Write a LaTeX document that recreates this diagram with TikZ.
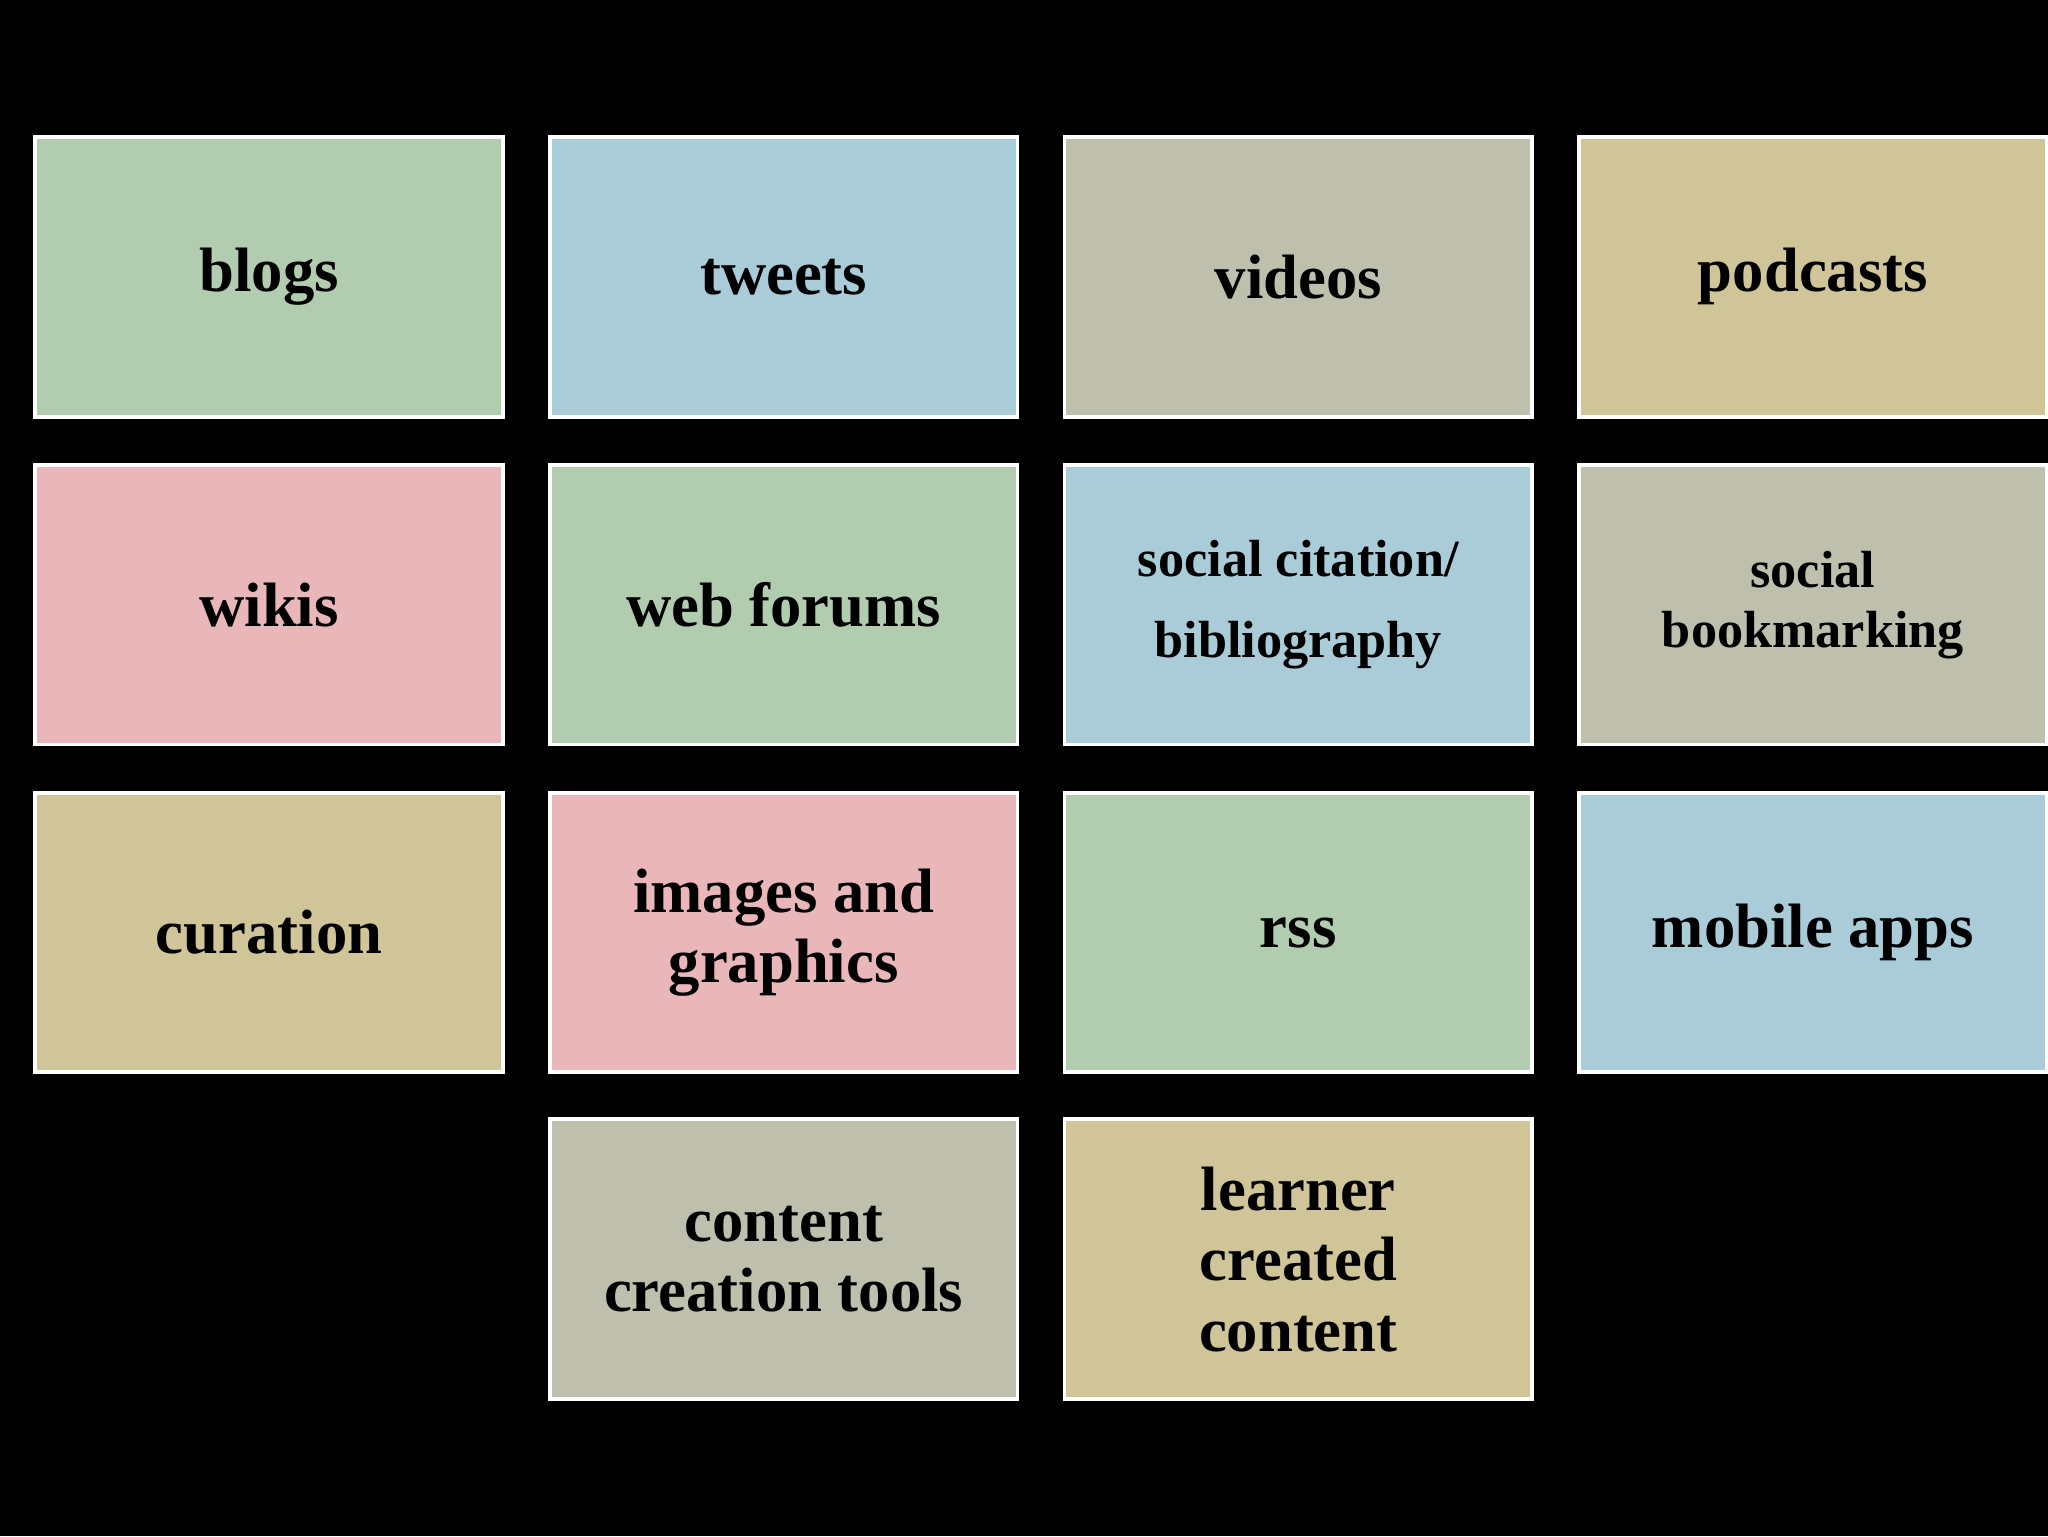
\documentclass[tikz,border=0pt]{standalone}
\usepackage{fontspec}
\setmainfont{Liberation Serif}
\definecolor{cg}{HTML}{B2CCB0}
\definecolor{cb}{HTML}{AACCD9}
\definecolor{cy}{HTML}{BFBFAE}
\definecolor{ct}{HTML}{CFC598}
\definecolor{cp}{HTML}{E9B7BA}
\begin{document}
\begin{tikzpicture}[x=1pt,y=-1pt,
  card/.style={draw=white,line width=3pt,minimum width=358pt,minimum height=214pt,inner sep=0pt,align=center,font=\bfseries\fontsize{48}{54}\selectfont,text=black},
  smallcard/.style={card,font=\bfseries\fontsize{40}{62}\selectfont}]
\fill[black] (0,0) rectangle (1568,1176);
\useasboundingbox (0,0) rectangle (1568,1176);
\clip (0,0) rectangle (1568,1176);
\node[card,fill=cg] (a1) at (206,212) {blogs};
\node[card,fill=cb] (a2) at (600,212) {tweets};
\node[card,fill=cy] (a3) at (994,212) {videos};
\node[card,fill=ct] (a4) at (1388,212) {podcasts};
\node[card,fill=cp] (b1) at (206,463) {wikis};
\node[card,fill=cg] (b2) at (600,463) {web forums};
\node[smallcard,fill=cb] (b3) at (994,463) {social citation/\\bibliography};
\node[card,fill=cy,font=\bfseries\fontsize{40}{46}\selectfont] (b4) at (1388,463) {social\\bookmarking};
\node[card,fill=ct] (c1) at (206,714) {curation};
\node[card,fill=cp] (c2) at (600,714) {images and\\graphics};
\node[card,fill=cg] (c3) at (994,714) {rss};
\node[card,fill=cb] (c4) at (1388,714) {mobile apps};
\node[card,fill=cy] (d2) at (600,964) {content\\creation tools};
\node[card,fill=ct] (d3) at (994,964) {learner\\created\\content};
\end{tikzpicture}
\end{document}
